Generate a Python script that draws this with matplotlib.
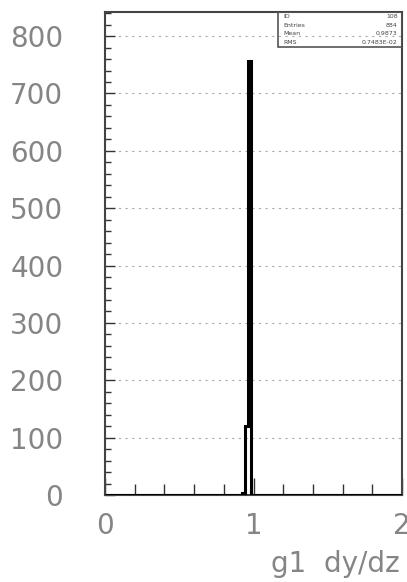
import numpy as np
import matplotlib
matplotlib.use("Agg")
import matplotlib.pyplot as plt
from matplotlib.ticker import MultipleLocator

# Data: histogram of g1 dy/dz, 100 bins from 0 to 2
bin_edges = np.linspace(0, 2, 101)
nonzero_bins = {46: 3, 47: 120, 48: 757}
counts = np.zeros(100)
for i, v in nonzero_bins.items():
    counts[i] = v

yticks = [0, 100, 200, 300, 400, 500, 600, 700, 800]
xticks = [0, 1, 2]
stat_names = ["ID", "Entries", "Mean", "RMS"]
stat_values = ["108", "884", "0.9873", "0.7483E-02"]

fig = plt.figure(figsize=(4.07, 5.82), dpi=100)
ax = fig.add_axes([105/407, 1-495/582, 297/407, 483/582])

ax.stairs(counts, bin_edges, baseline=0, color="black", linewidth=2.2, zorder=3)

ax.set_xlim(0, 2)
ax.set_ylim(0, 842)
ax.set_yticks(yticks)
ax.set_xticks(xticks)
ax.set_xticklabels([str(x) for x in xticks])
ax.yaxis.set_minor_locator(MultipleLocator(20))
ax.xaxis.set_minor_locator(MultipleLocator(0.2))

tcol = "#858585"
ax.tick_params(axis="y", which="major", direction="in", length=7, width=1, pad=30,
               labelsize=20, labelcolor=tcol, color="#333333")
ax.tick_params(axis="y", which="minor", direction="in", length=4, width=1, color="#333333")
ax.tick_params(axis="x", which="major", direction="in", length=12, width=1, pad=12,
               labelsize=20, labelcolor=tcol, color="#333333")
ax.tick_params(axis="x", which="minor", direction="in", length=8, width=1, color="#333333")

for s in ax.spines.values():
    s.set_linewidth(1.5)
    s.set_color("#444444")

ax.grid(axis="y", which="major", linestyle=(0, (2, 4)), color="#aaaaaa", linewidth=0.8)
ax.set_axisbelow(True)

ax.set_xlabel("g1  dy/dz", fontsize=20, color=tcol, ha="right")
ax.xaxis.set_label_coords(295/297, -55/483)
ax.xaxis.label.set_va("top")

# Stats box
bx0, by0 = 0.582, 0.928
ax.add_patch(plt.Rectangle((bx0, by0), 1-bx0, 1-by0, transform=ax.transAxes,
                           fill=False, edgecolor="#555555", linewidth=1.2, zorder=4))
n = len(stat_names)
for i, (nm, val) in enumerate(zip(stat_names, stat_values)):
    yy = 1 - (i + 0.5) * (1 - by0) / n
    ax.text(bx0 + 0.02, yy, nm, transform=ax.transAxes, fontsize=4.5, va="center",
            ha="left", color="#444444", zorder=5)
    ax.text(0.985, yy, val, transform=ax.transAxes, fontsize=4.5, va="center",
            ha="right", color="#444444", zorder=5)

fig.savefig("out.png", dpi=100)
